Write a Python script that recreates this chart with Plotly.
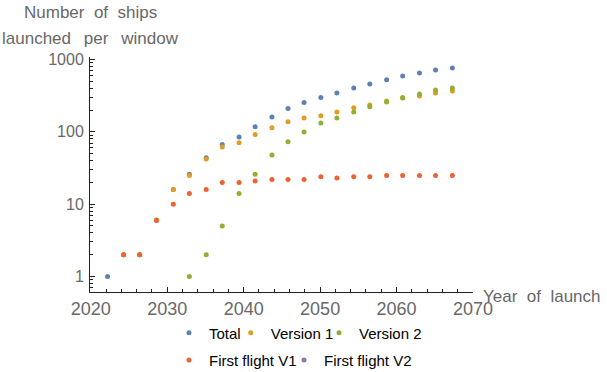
import plotly.graph_objects as go

years = [2022.2, 2024.3, 2026.4, 2028.6, 2030.8, 2032.9, 2035.1, 2037.2, 2039.4, 2041.5, 2043.7,
         2045.8, 2047.9, 2050.1, 2052.2, 2054.4, 2056.5, 2058.7, 2060.8, 2063.0, 2065.1, 2067.3]
total = [1, 2, 2, 6, 16, 26, 44, 67, 85, 118, 161, 210, 256, 300, 345, 404, 458, 528, 593, 652, 716, 764]
version1 = [None, 2, 2, 6, 16, 25, 42, 62, 71, 92, 114, 138, 156, 167, 189, 215, 236, 268, 298, 314, 346, 368]
version2 = [None, None, None, None, None, 1, 2, 5, 14, 26, 48, 73, 100, 133, 156, 189, 222, 260, 295, 335, 380, 405]
first_flight_v1 = [None, 2, 2, 6, 10, 14, 16, 20, 20, 21, 22, 22, 22, 24, 23, 24, 24, 25, 25, 25, 25, 25]
first_flight_v2 = [None] * len(years)

series_names = ["Total", "Version 1", "Version 2", "First flight V1", "First flight V2"]
series_values = [total, version1, version2, first_flight_v1, first_flight_v2]
colors = ["#5E81B5", "#E19C24", "#8FB032", "#EB6235", "#8778B3"]

x_tickvals = [2020, 2030, 2040, 2050, 2060, 2070]
y_tickvals = [1, 10, 100, 1000]
y_ticktext = ["1", "10", "100", "1000"]

FONT = "Liberation Sans"
GRAY = "#686868"
NB = "\u00a0"
TH = "\u2009"

W, H = 607, 372
ML, MR, MT, MB = 90, 134, 57, 80
pw = W - ML - MR
ph = H - MT - MB


def px(xp):
    return (xp - ML) / pw


def py(yp):
    return (H - MB - yp) / ph


# legend placement (page pixels): text start x, row centre y
legend_text_x = [205, 266.7, 355, 205, 320]
legend_row_y = [333, 333, 333, 360.3, 360.3]
legend_keys = ["legend", "legend2", "legend3", "legend4", "legend5"]

fig = go.Figure()
for name, vals, col, lg in zip(series_names, series_values, colors, legend_keys):
    fig.add_trace(go.Scatter(
        x=years, y=vals, mode="markers", name=name,
        marker=dict(color=col, size=5),
        legend=lg, showlegend=True,
    ))

legend_layouts = {}
for lg, tx, ty in zip(legend_keys, legend_text_x, legend_row_y):
    legend_layouts[lg] = dict(
        orientation="h", x=(tx - 36) / W, xanchor="left", xref="container",
        y=1 - ty / H, yanchor="middle", yref="container",
        font=dict(size=15, color="black", family=FONT), itemwidth=30,
        bgcolor="rgba(0,0,0,0)", borderwidth=0,
    )

fig.update_layout(
    width=W, height=H,
    margin=dict(l=ML, r=MR, t=MT, b=MB, autoexpand=False),
    paper_bgcolor="white", plot_bgcolor="white",
    font=dict(family=FONT, size=15, color=GRAY),
    xaxis=dict(
        range=[2019.9, 2070], tickvals=x_tickvals, showgrid=False, zeroline=False,
        showline=True, linecolor="#222", linewidth=1, automargin=False,
        ticks="inside", ticklen=5, tickcolor="#222",
        minor=dict(dtick=2, tick0=2020, ticks="inside", ticklen=3, tickcolor="#222", showgrid=False),
        tickfont=dict(size=18, color=GRAY),
    ),
    yaxis=dict(
        type="log", range=[-0.215, 3.036], tickvals=y_tickvals, ticktext=y_ticktext,
        showgrid=False, zeroline=False, automargin=False,
        showline=True, linecolor="#222", linewidth=1,
        ticks="inside", ticklen=5, tickcolor="#222",
        minor=dict(dtick="D1", ticks="inside", ticklen=3, tickcolor="#222", showgrid=False),
        tickfont=dict(size=16, color=GRAY), ticklabelstandoff=2,
    ),
    annotations=[
        dict(text=f"Number{NB*2}of{NB*2}ships", x=px(90), y=py(12.5), xref="paper", yref="paper",
             xanchor="center", yanchor="middle", showarrow=False, font=dict(size=17, color=GRAY)),
        dict(text=f"launched{NB*2}{TH}per{NB*2}{TH}window", x=px(90.5), y=py(38.3), xref="paper",
             yref="paper", xanchor="center", yanchor="middle", showarrow=False,
             font=dict(size=17, color=GRAY)),
        dict(text=f"Year{NB*2}of{NB*2}launch", x=px(481), y=py(296), xref="paper", yref="paper",
             xanchor="left", yanchor="middle", showarrow=False, font=dict(size=17, color=GRAY)),
    ],
    **legend_layouts,
)

fig.write_html("out.html", config={"displayModeBar": False},
               post_script="document.body.style.margin='0';")
